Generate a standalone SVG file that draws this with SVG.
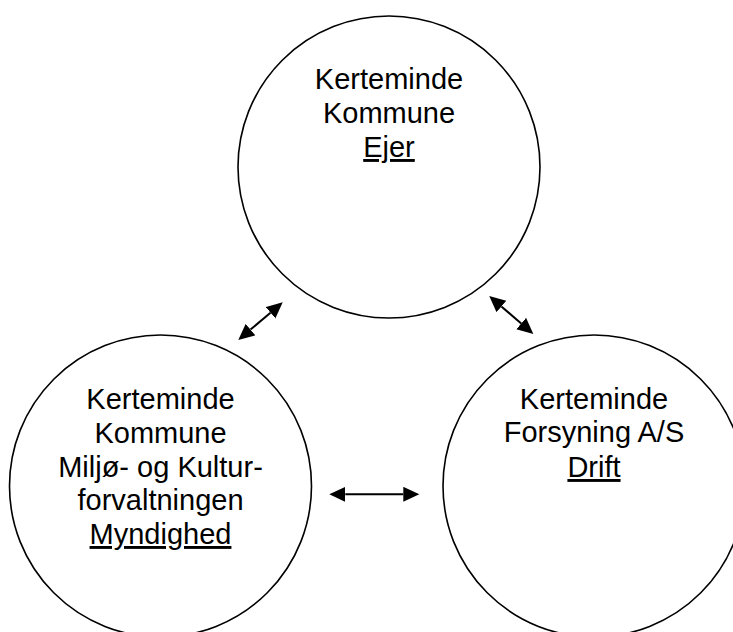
<svg xmlns="http://www.w3.org/2000/svg" width="733" height="632" viewBox="0 0 733 632">
  <style>
    .node { fill: #ffffff; stroke: #000000; stroke-width: 1.6; }
    .lbl { font-family: "Liberation Sans", Arial, sans-serif; font-size: 29px; fill: #000000; text-anchor: middle; }
    .u { text-decoration: underline; text-decoration-skip-ink: none; text-underline-offset: 4px; }
    .conn { stroke: #000000; stroke-width: 2; fill: none; marker-start: url(#head); marker-end: url(#head); }
  </style>
  <defs>
    <marker id="head" markerUnits="userSpaceOnUse" markerWidth="17" markerHeight="16" refX="0" refY="7.5" orient="auto-start-reverse" viewBox="0 0 17 16">
      <path d="M0,0 L16,7.5 L0,15 Z" fill="#000000"/>
    </marker>
  </defs>
  <rect x="0" y="0" width="733" height="632" fill="#ffffff"/>
  <g id="node-ejer">
    <circle class="node" cx="389" cy="167" r="151"/>
    <text class="lbl" x="389" y="89">Kerteminde</text>
    <text class="lbl" x="389" y="123">Kommune</text>
    <text class="lbl u" x="389" y="157">Ejer</text>
  </g>
  <g id="node-myndighed">
    <circle class="node" cx="160.5" cy="486" r="151"/>
    <text class="lbl" x="160.5" y="409">Kerteminde</text>
    <text class="lbl" x="160.5" y="443">Kommune</text>
    <text class="lbl" x="160.5" y="477">Miljø- og Kultur-</text>
    <text class="lbl" x="160.5" y="510">forvaltningen</text>
    <text class="lbl u" x="160.5" y="544">Myndighed</text>
  </g>
  <g id="node-drift">
    <circle class="node" cx="594" cy="486" r="151"/>
    <text class="lbl" x="594" y="409">Kerteminde</text>
    <text class="lbl" x="594" y="442">Forsyning A/S</text>
    <text class="lbl u" x="594" y="477">Drift</text>
  </g>
  <g id="connectors">
    <line class="conn" x1="250.5" y1="329.6" x2="270.5" y2="312.7"/>
    <line class="conn" x1="501.4" y1="306.5" x2="521.2" y2="323.5"/>
    <line class="conn" x1="345.3" y1="494.3" x2="403.3" y2="494.3"/>
  </g>
</svg>
